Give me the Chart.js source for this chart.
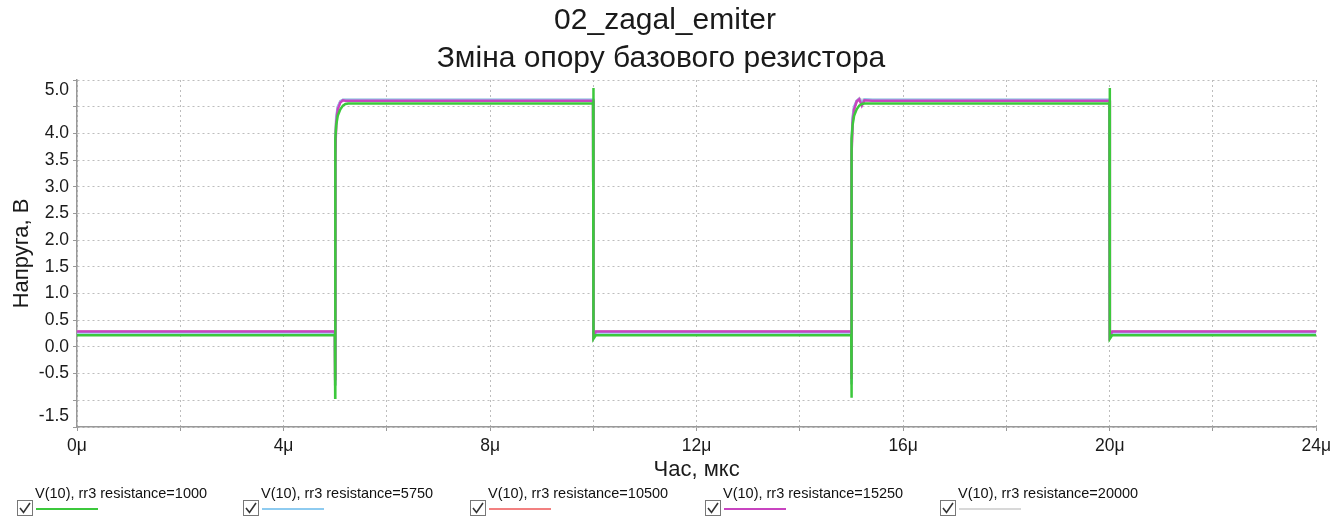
<!DOCTYPE html>
<html>
<head>
<meta charset="utf-8">
<script src="https://cdn.jsdelivr.net/npm/chart.js@4.4.0/dist/chart.umd.min.js"></script>
<style>
    html, body { margin: 0; padding: 0; background: #fff; }
    #wrap { position: relative; width: 1336px; height: 519px; overflow: hidden; }
    #chart { position: absolute; left: 0; top: 0; }
    .lg { position: absolute; top: 485px; font: 14.5px "Liberation Sans", Arial, sans-serif; color: #111; white-space: nowrap; }
    .lg .box { position: absolute; left: 0; top: 15px; width: 14px; height: 14px; border: 1px solid #777; background: #fff; }
    .lg .txt { position: absolute; left: 18px; top: 0; }
    .lg .line { position: absolute; left: 19px; top: 23px; width: 62px; height: 2px; }
</style>
</head>
<body>
<div id="wrap">
    <canvas id="chart" width="1336" height="519"></canvas>
</div>
<script>
// time, μs
const times = [0, 4.995, 5.0, 5.003, 5.02, 5.05, 5.1, 5.15, 5.2, 5.25, 5.4, 9.995, 10.0, 10.005, 10.05,
               14.995, 15.0, 15.003, 15.02, 15.05, 15.1, 15.15, 15.2, 15.25, 15.4, 19.995, 20.0, 20.005, 20.05, 24];

// V(10) for each rr3 resistance
const r1000  = [0.22, 0.22, -0.95, 3.9, 4.15, 4.33, 4.45, 4.52, 4.55, 4.56, 4.56, 4.56, 4.85, 0.15, 0.22,
                0.22, -0.95, 3.9, 4.15, 4.33, 4.45, 4.52, 4.55, 4.56, 4.56, 4.56, 4.85, 0.15, 0.22, 0.22];
const r5750  = [0.27, 0.27, -0.7, 3.8, 4.3, 4.5, 4.6, 4.63, 4.63, 4.63, 4.63, 4.63, 4.63, 0.2, 0.27,
                0.27, -0.7, 3.8, 4.3, 4.5, 4.61, 4.65, 4.57, 4.64, 4.63, 4.63, 4.63, 0.2, 0.27, 0.27];
const r10500 = [0.28, 0.28, -0.7, 3.7, 4.25, 4.48, 4.6, 4.62, 4.62, 4.62, 4.62, 4.62, 4.62, 0.2, 0.28,
                0.28, -0.7, 3.7, 4.25, 4.48, 4.6, 4.65, 4.55, 4.63, 4.62, 4.62, 4.62, 0.2, 0.28, 0.28];
const r15250 = [0.29, 0.29, -0.6, 3.6, 4.2, 4.45, 4.58, 4.62, 4.61, 4.61, 4.61, 4.61, 4.61, 0.2, 0.29,
                0.29, -0.6, 3.6, 4.2, 4.45, 4.6, 4.64, 4.52, 4.62, 4.61, 4.61, 4.61, 0.2, 0.29, 0.29];
const r20000 = [0.29, 0.29, -0.6, 3.6, 4.2, 4.45, 4.6, 4.63, 4.63, 4.63, 4.63, 4.63, 4.63, 0.2, 0.29,
                0.29, -0.6, 3.6, 4.2, 4.45, 4.6, 4.63, 4.63, 4.63, 4.63, 4.63, 4.63, 0.2, 0.29, 0.29];

const seriesNames = ["V(10), rr3 resistance=1000", "V(10), rr3 resistance=5750", "V(10), rr3 resistance=10500",
                     "V(10), rr3 resistance=15250", "V(10), rr3 resistance=20000"];
const seriesValues = [r1000, r5750, r10500, r15250, r20000];
const seriesColors = ["#3cc83c", "#8ecbf0", "#f28080", "#c844c0", "#d8d8d8"];
const drawOrder = [1, 3, 4, 2, 5];

const yTickLabels = [-1.5, -0.5, 0.0, 0.5, 1.0, 1.5, 2.0, 2.5, 3.0, 3.5, 4.0, 5.0];

const FONT = '"Liberation Sans", Arial, sans-serif';

// Legend (HTML)
const legendX = [17, 243, 470, 705, 940];
seriesNames.forEach(function (name, i) {
    const el = document.createElement('div');
    el.className = 'lg';
    el.style.left = legendX[i] + 'px';
    el.innerHTML = '<div class="box"><svg width="14" height="14" viewBox="0 0 14 14">' +
        '<path d="M2 7 L5.5 11.5 L12 2" fill="none" stroke="#333" stroke-width="1.6"/></svg></div>' +
        '<div class="txt">' + name + '</div>' +
        '<div class="line" style="background:' + seriesColors[i] + '"></div>';
    document.getElementById('wrap').appendChild(el);
});

// Titles, axis titles and y tick labels
const textPlugin = {
    id: 'texts',
    afterDraw: function (chart) {
        const ctx = chart.ctx;
        const area = chart.chartArea;
        const y = chart.scales.y;
        ctx.save();
        ctx.fillStyle = '#1a1a1a';
        ctx.textBaseline = 'middle';

        ctx.textAlign = 'right';
        ctx.font = '17.5px ' + FONT;
        yTickLabels.forEach(function (v) {
            let py = y.getPixelForValue(v);
            py = Math.max(area.top + 10, Math.min(area.bottom - 11, py));
            ctx.fillText(v.toFixed(1), area.left - 8, py);
        });

        ctx.textAlign = 'center';
        ctx.font = '30px ' + FONT;
        ctx.fillText('02_zagal_emiter', 665, 21);
        ctx.fillText('Зміна опору базового резистора', 661, 59);

        ctx.font = '22px ' + FONT;
        ctx.fillText('Час, мкс', (area.left + area.right) / 2, 470);

        ctx.translate(22, (area.top + area.bottom) / 2);
        ctx.rotate(-Math.PI / 2);
        ctx.fillText('Напруга, В', 0, 0);
        ctx.restore();
    }
};

new Chart(document.getElementById('chart').getContext('2d'), {
    type: 'line',
    data: {
        datasets: seriesValues.map(function (vals, i) {
            return {
                label: seriesNames[i],
                data: times.map(function (t, k) { return { x: t, y: vals[k] }; }),
                borderColor: seriesColors[i],
                borderWidth: 2.5,
                pointRadius: 0,
                tension: 0,
                fill: false,
                order: drawOrder[i]
            };
        })
    },
    options: {
        responsive: false,
        animation: false,
        layout: { padding: { top: 80, right: 18, left: 0, bottom: 0 } },
        plugins: { legend: { display: false }, tooltip: { enabled: false } },
        scales: {
            x: {
                type: 'linear',
                min: 0,
                max: 24,
                afterFit: function (s) { s.height = 92; },
                border: { color: '#999', width: 1.5, dash: [2, 3] },
                grid: { color: '#bdbdbd', tickLength: 4, tickColor: '#999' },
                ticks: {
                    stepSize: 2,
                    autoSkip: false,
                    maxRotation: 0,
                    padding: 5,
                    color: '#1a1a1a',
                    font: { size: 17.5, family: FONT },
                    callback: function (v) { return v % 4 === 0 ? v + 'μ' : ''; }
                }
            },
            y: {
                type: 'linear',
                min: -1.5,
                max: 5,
                afterFit: function (s) { s.width = 77; },
                border: { color: '#999', width: 1.5, dash: [2, 3] },
                grid: { color: '#bdbdbd', tickLength: 4, tickColor: '#999' },
                ticks: { stepSize: 0.5, display: false }
            }
        }
    },
    plugins: [textPlugin]
});
</script>
</body>
</html>
